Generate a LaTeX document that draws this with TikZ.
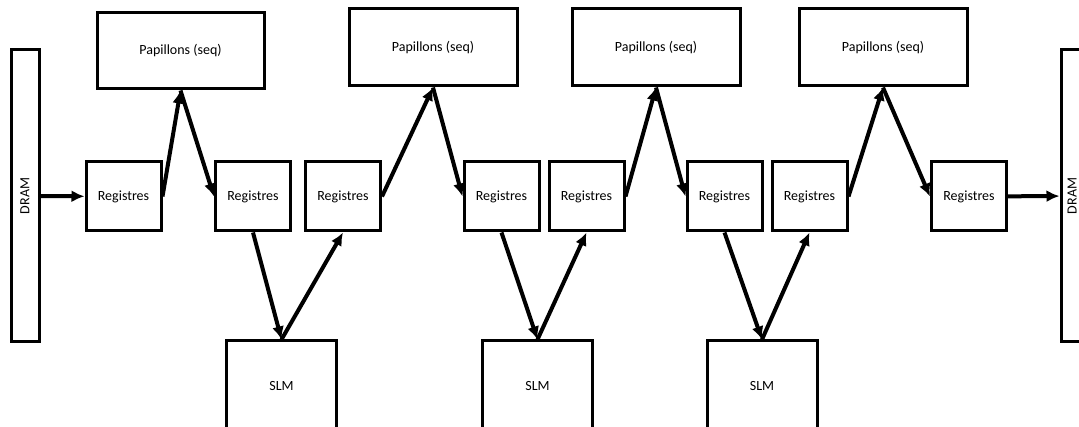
\documentclass[tikz,border=0pt]{standalone}
\usepackage{fontspec}
\setmainfont{Carlito}
\usetikzlibrary{arrows.meta,positioning}
\tikzset{
  arr/.style={-{Latex[length=13pt,width=12pt]},line width=4pt,draw=black},
  regbox/.style={draw=black,line width=3pt,fill=white,minimum width=75pt,minimum height=69pt,inner sep=0pt,font=\fontsize{14}{16}\selectfont},
  papbox/.style={draw=black,line width=3pt,fill=white,minimum width=168pt,minimum height=77pt,inner sep=0pt,font=\fontsize{14}{16}\selectfont},
  slmbox/.style={draw=black,line width=3pt,fill=white,minimum width=110pt,minimum height=90pt,inner sep=0pt,font=\fontsize{14}{16}\selectfont},
  drambox/.style={draw=black,line width=3pt,fill=white,minimum width=28pt,minimum height=292pt,inner sep=0pt}
}
\begin{document}
\begin{tikzpicture}[x=1pt,y=-1pt,node distance=12pt]
  \clip (0,0) rectangle (1079,427);
  \fill[white] (0,0) rectangle (1079,427);
  \node[drambox] (dramin) at (25,196) {};
  \node[rotate=90,font=\fontsize{14}{16}\selectfont] at (dramin.center) {DRAM};
  \node[drambox] (dramout) at (1075,196) {};
  \node[rotate=90,font=\fontsize{14}{16}\selectfont] at (1072,196) {DRAM};
  \node[papbox,minimum width=167pt,minimum height=76pt] (pap1) at (180.5,51) {Papillons (seq)};
  \node[papbox] (pap2) at (433,47.5) {Papillons (seq)};
  \node[papbox] (pap3) at (656,47.5) {Papillons (seq)};
  \node[papbox] (pap4) at (883,47.5) {Papillons (seq)};
  \node[regbox] (reg1) at (123.5,196.5) {Registres};
  \node[regbox] (reg2) at (253,196.5) {Registres};
  \node[regbox,right=of reg2] (reg3) {Registres};
  \node[regbox] (reg4) at (501.5,196.5) {Registres};
  \node[regbox,right=7pt of reg4] (reg5) {Registres};
  \node[regbox] (reg6) at (724.5,196.5) {Registres};
  \node[regbox,right=7pt of reg6] (reg7) {Registres};
  \node[regbox] (reg8) at (969,196.5) {Registres};
  \node[slmbox] (slm1) at (281.5,386) {SLM};
  \node[slmbox] (slm2) at (537.5,386) {SLM};
  \node[slmbox] (slm3) at (762,386) {SLM};
  \draw[arr] (dramin)--(reg1);\draw[arr] (reg1.east)--(pap1.south);\draw[arr] (pap1.south)--(reg2.west);
  \draw[arr] (reg2.south)--(slm1.north);\draw[arr] (slm1.north)--(reg3.south);
  \draw[arr] (reg3.east)--(pap2.south);\draw[arr] (pap2.south)--(reg4.west);
  \draw[arr] (reg4.south)--(slm2.north);\draw[arr] (slm2.north)--(reg5.south);
  \draw[arr] (reg5.east)--(pap3.south);\draw[arr] (pap3.south)--(reg6.west);
  \draw[arr] (reg6.south)--(slm3.north);\draw[arr] (slm3.north)--(reg7.south);
  \draw[arr] (reg7.east)--(pap4.south);\draw[arr] (pap4.south)--(reg8.west);
  \draw[arr] (reg8)--(dramout);
\end{tikzpicture}
\end{document}
